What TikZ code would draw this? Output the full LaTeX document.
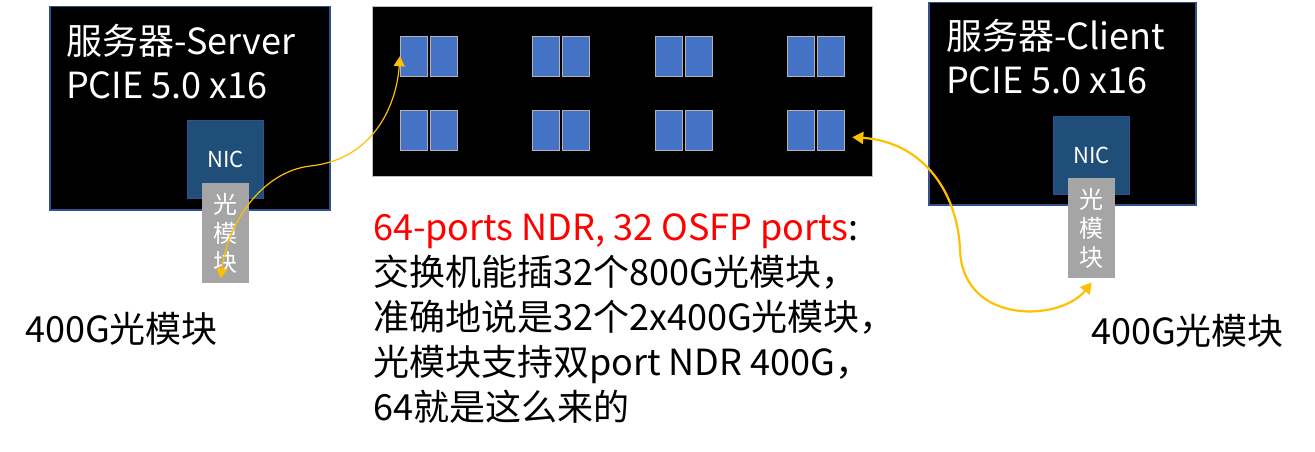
\documentclass[tikz,border=0pt]{standalone}
\usepackage{fontspec}
\setmainfont{Noto Sans CJK SC}
\usetikzlibrary{positioning,arrows.meta}
\definecolor{boxblue}{HTML}{2F528F}
\definecolor{nicblue}{HTML}{1F4E79}
\definecolor{portblue}{HTML}{4472C4}
\definecolor{modgray}{HTML}{A5A5A5}
\definecolor{linkyellow}{HTML}{FFC000}

\begin{document}
\begin{tikzpicture}[x=1pt,y=-1pt,
  serverbox/.style={draw=boxblue,line width=1.5pt,fill=black,inner sep=0pt,anchor=north west},
  nicbox/.style={draw=boxblue,line width=1pt,fill=nicblue,text=white,inner sep=0pt,
    minimum width=76pt,minimum height=78pt,font=\fontsize{22}{26}\selectfont,anchor=north west},
  modbox/.style={fill=modgray,text=white,inner sep=0pt,align=center,
    minimum width=47pt,minimum height=100pt,font=\fontsize{24}{29}\selectfont,anchor=north west},
  portbox/.style={draw=gray!60,fill=portblue,inner sep=0pt,minimum width=27pt,minimum height=40pt,anchor=north west},
  namebox/.style={text=white,align=left,inner sep=0pt,anchor=base west,font=\fontsize{36}{44}\selectfont},
  noteline/.style={align=left,inner sep=0pt,anchor=base west,font=\fontsize{36}{45}\selectfont},
  thinlink/.style={draw=linkyellow,line width=1.2pt,{Triangle[length=10pt,width=11pt]}-{Triangle[length=10pt,width=11pt]}},
  thicklink/.style={draw=linkyellow,line width=2.2pt,{Triangle[length=11pt,width=12pt]}-{Triangle[length=11pt,width=12pt]}}]
\useasboundingbox (0,0) rectangle (1315,452);

\node[serverbox,minimum width=280pt,minimum height=203pt] (srv) at (49,6) {};
\node[namebox] (srvname) at (66,99) {服务器-Server\\PCIE 5.0 x16};
\node[nicbox] (nic1) at (187,120) {NIC};
\node[modbox] (mod1) at (202,183) {光\\模\\块};
\node[noteline] (lab1) at (25,342) {400G光模块};

\node[draw=gray!50,fill=black,inner sep=0pt,minimum width=500pt,minimum height=170pt,anchor=north west] (switch) at (372,6) {};
\foreach \i/\x in {1/400,2/532,3/655,4/787}
  \foreach \j/\y in {1/36,2/110} {
    \node[portbox] (pa\i\j) at (\x,\y) {};
    \node[portbox,right=2.5pt of pa\i\j] (pb\i\j) {};
  }

\node[serverbox,minimum width=267pt,minimum height=202pt] (cli) at (928,2) {};
\node[namebox] (cliname) at (946,94) {服务器-Client\\PCIE 5.0 x16};
\node[nicbox] (nic2) at (1053,116) {NIC};
\node[modbox] (mod2) at (1068,178) {光\\模\\块};
\node[noteline] (lab2) at (1091,344) {400G光模块};

\node[noteline] (note) at (373,420) {\textcolor{red}{64-ports NDR, 32 OSFP ports}:\\
  交换机能插32个800G光模块，\\
  准确地说是32个2x400G光模块，\\
  光模块支持双port NDR 400G，\\
  64就是这么来的};

\draw[thinlink] (pa11.west) .. controls (396,110) and (370,160) .. (310,166)
  .. controls (262,172) and (228,222) .. ([xshift=-5pt,yshift=5pt]mod1.south);
\draw[thicklink] ([xshift=8pt,yshift=-7pt]pb42.east) .. controls (925,142) and (958,195) .. (960,250)
  .. controls (963,325) and (1060,322) .. ([yshift=-4pt]mod2.south);
\end{tikzpicture}
\end{document}
